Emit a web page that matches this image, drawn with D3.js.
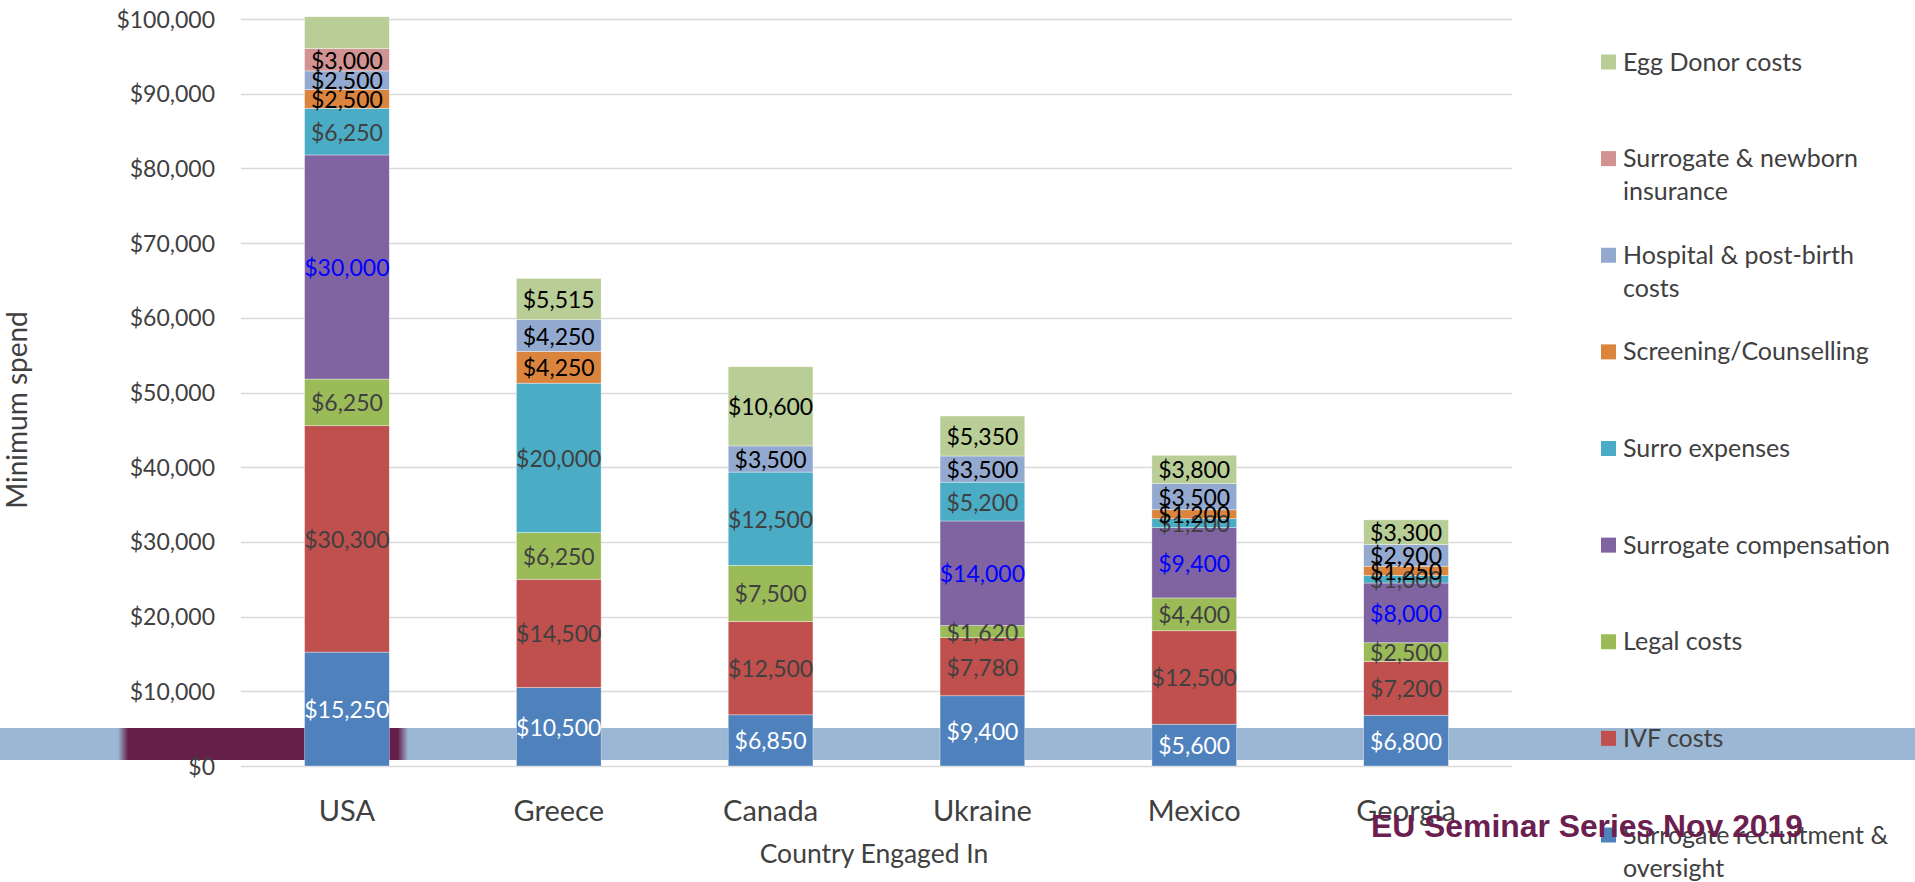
<!DOCTYPE html>
<html>
<head>
<meta charset="utf-8">
<script src="https://cdn.jsdelivr.net/npm/d3@7/dist/d3.min.js"></script>
<style>
  html, body { margin: 0; padding: 0; background: #fff; }
  svg { display: block; }
</style>
</head>
<body>
<svg id="chart" width="1915" height="882"></svg>
<script>
// ---------- DATA ----------
const categories = ["USA", "Greece", "Canada", "Ukraine", "Mexico", "Georgia"];
const seriesNames = [
  "Surrogate recruitment & oversight",
  "IVF costs",
  "Legal costs",
  "Surrogate compensation",
  "Surro expenses",
  "Screening/Counselling",
  "Hospital & post-birth costs",
  "Surrogate & newborn insurance",
  "Egg Donor costs"
];
const recruitment   = [15250, 10500, 6850, 9400, 5600, 6800];
const ivf           = [30300, 14500, 12500, 7780, 12500, 7200];
const legal         = [6250, 6250, 7500, 1620, 4400, 2500];
const surrogateComp = [30000, 0, 0, 14000, 9400, 8000];
const surroExpenses = [6250, 20000, 12500, 5200, 1200, 1000];
const screening     = [2500, 4250, 0, 0, 1200, 1250];
const hospital      = [2500, 4250, 3500, 3500, 3500, 2900];
const insurance     = [3000, 0, 0, 0, 0, 0];
const eggDonor      = [4250, 5515, 10600, 5350, 3800, 3300];
const yTicks = [0, 10000, 20000, 30000, 40000, 50000, 60000, 70000, 80000, 90000, 100000];
// data labels not shown in the original (series, category)
const hiddenLabels = [["Egg Donor costs", "USA"]];
const legendLines = {
  "Surrogate recruitment & oversight": ["Surrogate recruitment &", "oversight"],
  "Surrogate & newborn insurance": ["Surrogate & newborn", "insurance"],
  "Hospital & post-birth costs": ["Hospital & post-birth", "costs"]
};
const xTitle = "Country Engaged In";
const yTitle = "Minimum spend";
const footer = "EU Seminar Series Nov 2019";

// ---------- STYLES ----------
const seriesValues = [recruitment, ivf, legal, surrogateComp, surroExpenses, screening, hospital, insurance, eggDonor];
const colors = ["#4F81BD", "#C0504D", "#9BBB59", "#8064A2", "#4BACC6", "#DB843D", "#93A9CF", "#D19392", "#B9CD96"];
const labelColors = ["#FFFFFF", "#404040", "#404040", "#0000FF", "#404040", "#000000", "#000000", "#000000", "#000000"];
const FONT = "Lato, 'Open Sans', sans-serif";

const svg = d3.select("#chart");

// ---------- BACKGROUND SLIDE BANDS ----------
const defs = svg.append("defs");
const grad = defs.append("linearGradient").attr("id", "maroonFade")
  .attr("x1", "0").attr("x2", "1").attr("y1", "0").attr("y2", "0");
grad.append("stop").attr("offset", "0").attr("stop-color", "#65204A").attr("stop-opacity", 0);
grad.append("stop").attr("offset", "0.035").attr("stop-color", "#65204A").attr("stop-opacity", 1);
grad.append("stop").attr("offset", "0.965").attr("stop-color", "#65204A").attr("stop-opacity", 1);
grad.append("stop").attr("offset", "1").attr("stop-color", "#65204A").attr("stop-opacity", 0);

svg.append("rect").attr("x", 0).attr("y", 728).attr("width", 1915).attr("height", 32).attr("fill", "#9BB7D4");
svg.append("rect").attr("x", 118).attr("y", 728).attr("width", 290).attr("height", 32).attr("fill", "url(#maroonFade)");

// ---------- SCALES ----------
const plot = { left: 241, right: 1512, top: 19, bottom: 766 };
const x = d3.scaleBand().domain(categories).range([plot.left, plot.right]).paddingInner(0.6).paddingOuter(0.3);
const y = d3.scaleLinear().domain([0, 100000]).range([plot.bottom, plot.top]);

// ---------- GRID ----------
const grid = svg.append("g").attr("class", "grid");
grid.selectAll("line").data(yTicks).join("line")
  .attr("x1", plot.left).attr("x2", plot.right)
  .attr("y1", d => Math.round(y(d)) + 0.5).attr("y2", d => Math.round(y(d)) + 0.5)
  .attr("stroke", "#D9D9D9").attr("stroke-width", 1.5);

// Y axis
const yAxis = d3.axisLeft(y).tickValues(yTicks).tickSize(0).tickPadding(0)
  .tickFormat(d => "$" + d3.format(",")(d));
const yg = svg.append("g").attr("transform", `translate(215,0)`).call(yAxis);
yg.select(".domain").remove();
yg.selectAll("text").attr("font-family", FONT).attr("font-size", 23).attr("fill", "#404040").attr("dy", "0.35em");

// X axis
const xAxis = d3.axisBottom(x).tickSize(0).tickPadding(0);
const xg = svg.append("g").attr("transform", `translate(0,821)`).call(xAxis);
xg.select(".domain").remove();
xg.selectAll("text").attr("font-family", FONT).attr("font-size", 29).attr("fill", "#404040").attr("dy", 0);

// ---------- STACK ----------
const rows = categories.map((c, i) => {
  const r = { category: c };
  seriesNames.forEach((s, k) => r[s] = seriesValues[k][i]);
  return r;
});
const stacked = d3.stack().keys(seriesNames)(rows);

const layers = svg.append("g").selectAll("g").data(stacked).join("g")
  .attr("fill", (d, k) => colors[k]);
layers.selectAll("rect").data(d => d.filter(p => p[1] - p[0] > 0)).join("rect")
  .attr("x", p => x(p.data.category))
  .attr("width", x.bandwidth())
  .attr("y", p => y(p[1]))
  .attr("height", p => y(p[0]) - y(p[1]))
  .attr("stroke", "#FFFFFF").attr("stroke-width", 0.6).attr("stroke-opacity", 0.6);

// Data labels
const isHidden = (s, c) => hiddenLabels.some(h => h[0] === s && h[1] === c);
const labelG = svg.append("g");
stacked.forEach((layer, k) => {
  layer.forEach(p => {
    const v = p[1] - p[0];
    if (v <= 0 || isHidden(layer.key, p.data.category)) return;
    labelG.append("text")
      .attr("x", x(p.data.category) + x.bandwidth() / 2)
      .attr("y", (y(p[0]) + y(p[1])) / 2)
      .attr("text-anchor", "middle")
      .attr("dominant-baseline", "central")
      .attr("font-family", FONT).attr("font-size", 23)
      .attr("fill", labelColors[k])
      .text("$" + d3.format(",")(v));
  });
});

// ---------- AXIS TITLES ----------
svg.append("text").attr("x", 874).attr("y", 863).attr("text-anchor", "middle")
  .attr("font-family", FONT).attr("font-size", 26.5).attr("fill", "#404040").text(xTitle);
svg.append("text").attr("transform", "translate(27,410) rotate(-90)").attr("text-anchor", "middle")
  .attr("font-family", FONT).attr("font-size", 28).attr("fill", "#404040").text(yTitle);

// ---------- LEGEND ----------
const legendOrder = seriesNames.slice().reverse();
const ly = d3.scalePoint().domain(legendOrder).range([62, 835]);
const lg = svg.append("g");
legendOrder.forEach(s => {
  const k = seriesNames.indexOf(s);
  const cy = ly(s);
  lg.append("rect").attr("x", 1601).attr("y", cy - 7.5).attr("width", 15).attr("height", 15).attr("fill", colors[k]);
  const lines = legendLines[s] || [s];
  const t = lg.append("text").attr("font-family", FONT).attr("font-size", 25).attr("fill", "#404040");
  lines.forEach((ln, j) => {
    t.append("tspan").attr("x", 1623).attr("y", cy + 8.5 + j * 33).text(ln);
  });
});

// ---------- FOOTER ----------
svg.append("text").attr("x", 1371).attr("y", 837)
  .attr("font-family", "'Liberation Sans', Arial, sans-serif").attr("font-weight", "bold")
  .attr("font-size", 32).attr("fill", "#6B1E4F").attr("textLength", 432).attr("lengthAdjust", "spacingAndGlyphs")
  .text(footer);
</script>
</body>
</html>
